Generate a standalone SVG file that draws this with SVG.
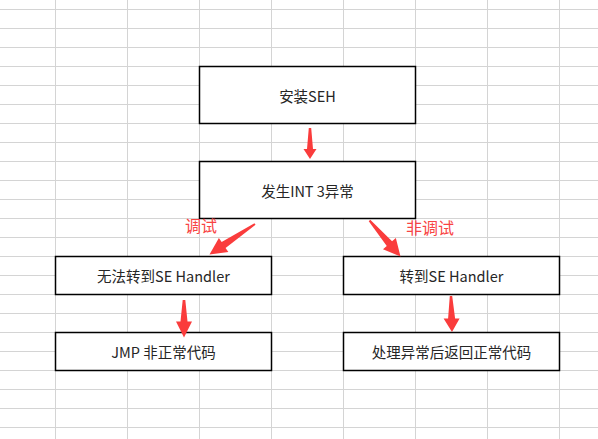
<svg xmlns="http://www.w3.org/2000/svg" width="598" height="439" viewBox="0 0 598 439">
<style>
.grid line{stroke:#d4d4d4;stroke-width:1}
.box{fill:#ffffff;stroke:#000000;stroke-width:1.5}
.t{font-family:"Noto Sans CJK SC","Microsoft YaHei",sans-serif;font-size:14.5px;fill:#262626;text-anchor:middle}
.lbl{font-family:"Noto Sans CJK SC",sans-serif;font-size:16px;fill:#f84444;text-anchor:middle}
.arr{fill:#fa3c3c}
</style>
<rect width="598" height="439" fill="#ffffff"/>
<g class="grid">
<line x1="55.5" y1="0" x2="55.5" y2="439"/>
<line x1="127.5" y1="0" x2="127.5" y2="439"/>
<line x1="199.5" y1="0" x2="199.5" y2="439"/>
<line x1="271.5" y1="0" x2="271.5" y2="439"/>
<line x1="343.5" y1="0" x2="343.5" y2="439"/>
<line x1="415.5" y1="0" x2="415.5" y2="439"/>
<line x1="487.5" y1="0" x2="487.5" y2="439"/>
<line x1="559.5" y1="0" x2="559.5" y2="439"/>
<line x1="0" y1="9.5" x2="598" y2="9.5"/>
<line x1="0" y1="28.5" x2="598" y2="28.5"/>
<line x1="0" y1="47.5" x2="598" y2="47.5"/>
<line x1="0" y1="66.5" x2="598" y2="66.5"/>
<line x1="0" y1="85.5" x2="598" y2="85.5"/>
<line x1="0" y1="104.5" x2="598" y2="104.5"/>
<line x1="0" y1="123.5" x2="598" y2="123.5"/>
<line x1="0" y1="142.5" x2="598" y2="142.5"/>
<line x1="0" y1="161.5" x2="598" y2="161.5"/>
<line x1="0" y1="180.5" x2="598" y2="180.5"/>
<line x1="0" y1="199.5" x2="598" y2="199.5"/>
<line x1="0" y1="218.5" x2="598" y2="218.5"/>
<line x1="0" y1="237.5" x2="598" y2="237.5"/>
<line x1="0" y1="256.5" x2="598" y2="256.5"/>
<line x1="0" y1="275.5" x2="598" y2="275.5"/>
<line x1="0" y1="294.5" x2="598" y2="294.5"/>
<line x1="0" y1="313.5" x2="598" y2="313.5"/>
<line x1="0" y1="332.5" x2="598" y2="332.5"/>
<line x1="0" y1="351.5" x2="598" y2="351.5"/>
<line x1="0" y1="370.5" x2="598" y2="370.5"/>
<line x1="0" y1="389.5" x2="598" y2="389.5"/>
<line x1="0" y1="408.5" x2="598" y2="408.5"/>
<line x1="0" y1="427.5" x2="598" y2="427.5"/>
</g>
<g id="n1"><rect class="box" x="199.5" y="66.5" width="216" height="57"/><text class="t" x="307.5" y="101.5">安装SEH</text></g>
<g id="n2"><rect class="box" x="199.5" y="161.5" width="216" height="57"/><text class="t" x="307.5" y="196.5">发生INT 3异常</text></g>
<g id="n3"><rect class="box" x="55.5" y="256.5" width="216" height="38"/><text class="t" x="163.5" y="282">无法转到SE Handler</text></g>
<g id="n4"><rect class="box" x="343.5" y="256.5" width="216" height="38"/><text class="t" x="451.5" y="282">转到SE Handler</text></g>
<g id="n5"><rect class="box" x="55.5" y="332.5" width="216" height="38"/><text class="t" x="163.5" y="358">JMP 非正常代码</text></g>
<g id="n6"><rect class="box" x="343.5" y="332.5" width="216" height="38"/><text class="t" x="451.5" y="358">处理异常后返回正常代码</text></g>
<g id="connectors">
<polygon class="arr" points="308.8,128 307,149 303.5,149 310,159 316.5,149 313,149 311.2,128"/>
<polygon class="arr" points="254.44,223.17 221.67,242.12 218.89,237.97 209.5,254.5 228.35,252.09 225.57,247.94 255.56,224.83"/>
<polygon class="arr" points="368.74,221.15 386.76,245.9 382.97,249.17 400.5,256.5 395.85,238.07 392.06,241.34 370.26,219.85"/>
<polygon class="arr" points="182.7,300 180.5,321.5 176,321.5 184,337.5 192,321.5 187.5,321.5 185.3,300"/>
<polygon class="arr" points="449.8,296 448.1,318.5 443.6,318.5 452,332 459.6,318.5 455.1,318.5 452.2,296"/>
<text class="lbl" x="201" y="231.5">调试</text>
<text class="lbl" x="430" y="234">非调试</text>
</g>
</svg>
